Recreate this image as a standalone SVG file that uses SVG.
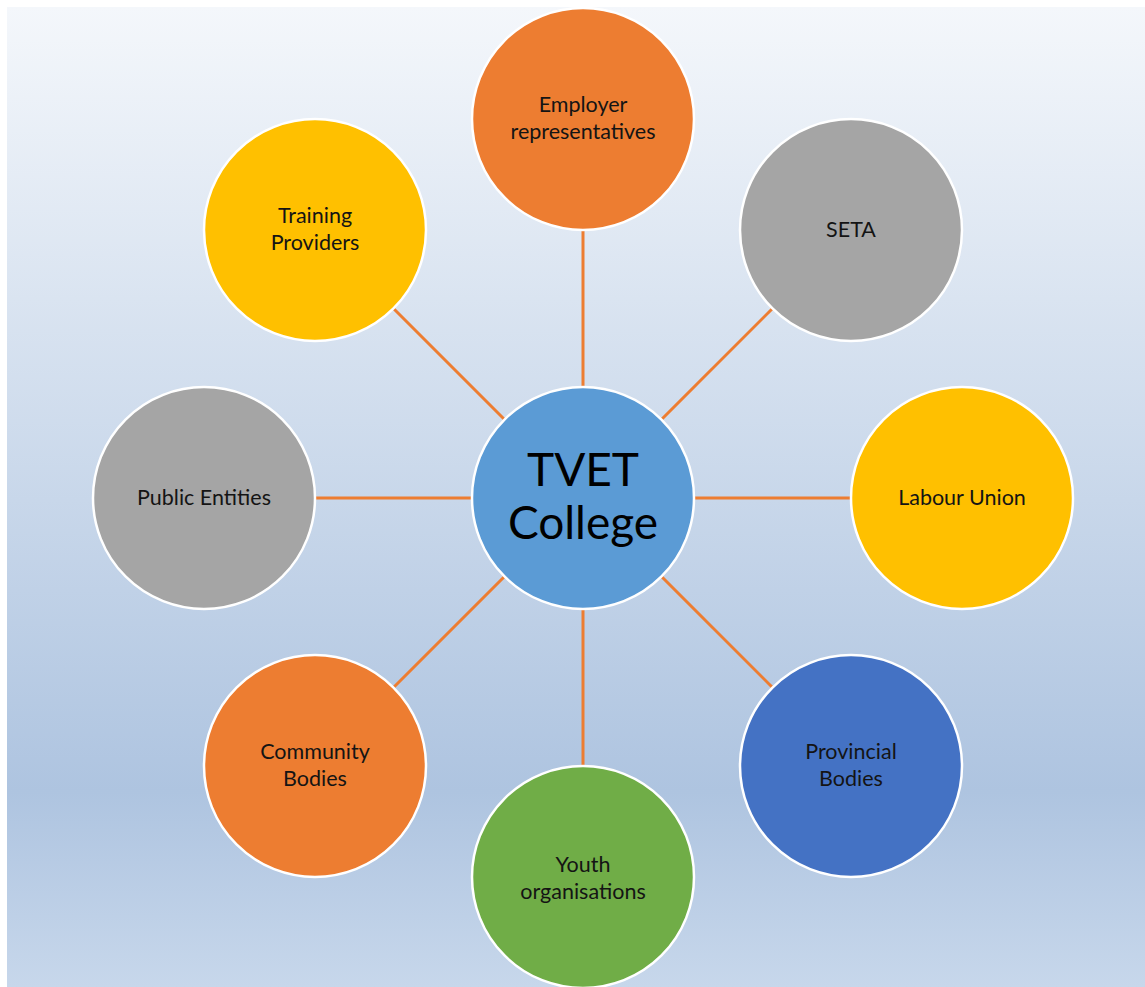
<svg xmlns="http://www.w3.org/2000/svg" width="1145" height="987" viewBox="0 0 1145 987">
  <defs>
    <linearGradient id="bg" x1="0" y1="0" x2="0" y2="1">
      <stop offset="0" stop-color="#f4f7fb"/>
      <stop offset="0.8" stop-color="#aec4e0"/>
      <stop offset="1" stop-color="#c7d7eb"/>
    </linearGradient>
    <style>
      .node circle { stroke: #ffffff; stroke-width: 2.5; }
      .label { font-family: Lato, "Open Sans", "Liberation Sans", sans-serif; font-size: 21.5px; fill: #141414; text-anchor: middle; }
      .hub { font-family: Lato, "Open Sans", "Liberation Sans", sans-serif; font-size: 46px; fill: #000000; text-anchor: middle; }
      .link { stroke: #ed7d31; stroke-width: 3; }
      .orange { fill: #ed7d31; }
      .gray { fill: #a5a5a5; }
      .yellow { fill: #ffc000; }
      .blue { fill: #4472c4; }
      .green { fill: #70ad47; }
      .center { fill: #5b9bd5; }
    </style>
  </defs>

  <rect x="0" y="0" width="1145" height="987" fill="#ffffff"/>
  <rect x="7" y="7" width="1138" height="980" fill="url(#bg)"/>

  <!-- spokes from the hub to each partner -->
  <g id="connectors">
    <line class="link" x1="583" y1="387" x2="583" y2="231"/>
    <line class="link" x1="661" y1="420" x2="773" y2="308"/>
    <line class="link" x1="694" y1="498" x2="851" y2="498"/>
    <line class="link" x1="661" y1="576" x2="773" y2="688"/>
    <line class="link" x1="583" y1="609" x2="583" y2="766"/>
    <line class="link" x1="505" y1="576" x2="393" y2="688"/>
    <line class="link" x1="472" y1="498" x2="315" y2="498"/>
    <line class="link" x1="505" y1="420" x2="393" y2="308"/>
  </g>

  <g id="employer" class="node">
    <circle class="orange" cx="583" cy="119" r="111"/>
    <text class="label" x="583" y="112">Employer</text>
    <text class="label" x="583" y="139">representatives</text>
  </g>

  <g id="seta" class="node">
    <circle class="gray" cx="851" cy="230" r="111"/>
    <text class="label" x="851" y="237">SETA</text>
  </g>

  <g id="labour-union" class="node">
    <circle class="yellow" cx="962" cy="498" r="111"/>
    <text class="label" x="962" y="505">Labour Union</text>
  </g>

  <g id="provincial-bodies" class="node">
    <circle class="blue" cx="851" cy="766" r="111"/>
    <text class="label" x="851" y="759">Provincial</text>
    <text class="label" x="851" y="786">Bodies</text>
  </g>

  <g id="youth" class="node">
    <circle class="green" cx="583" cy="877" r="111"/>
    <text class="label" x="583" y="872">Youth</text>
    <text class="label" x="583" y="899">organisations</text>
  </g>

  <g id="community-bodies" class="node">
    <circle class="orange" cx="315" cy="766" r="111"/>
    <text class="label" x="315" y="759">Community</text>
    <text class="label" x="315" y="786">Bodies</text>
  </g>

  <g id="public-entities" class="node">
    <circle class="gray" cx="204" cy="498" r="111"/>
    <text class="label" x="204" y="505">Public Entities</text>
  </g>

  <g id="training-providers" class="node">
    <circle class="yellow" cx="315" cy="230" r="111"/>
    <text class="label" x="315" y="223">Training</text>
    <text class="label" x="315" y="250">Providers</text>
  </g>

  <g id="tvet-college" class="node">
    <circle class="center" cx="583" cy="498" r="111"/>
    <text class="hub" x="583" y="486">TVET</text>
    <text class="hub" x="583" y="539">College</text>
  </g>
</svg>
